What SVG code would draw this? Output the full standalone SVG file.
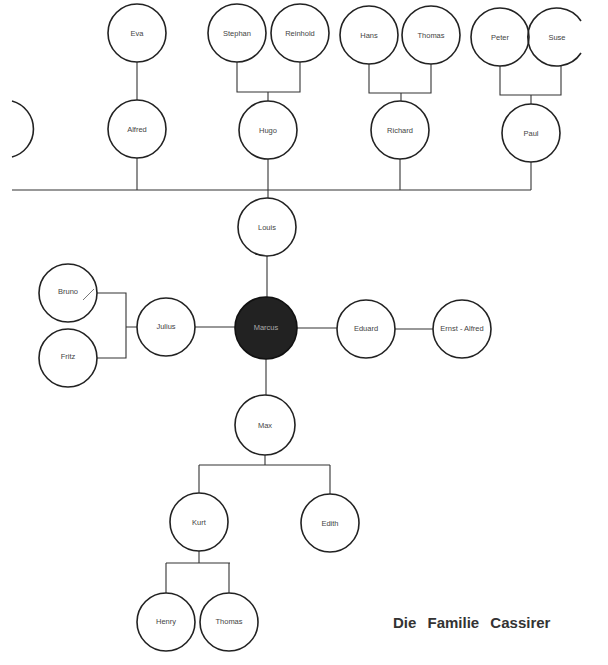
<svg xmlns="http://www.w3.org/2000/svg" width="608" height="665" viewBox="0 0 608 665">
<style>
.n{fill:#fff;stroke:#222;stroke-width:1.6}
.p{fill:none;stroke:#222;stroke-width:1.6}
.t{font-family:"Liberation Sans",Arial,sans-serif;font-size:7.5px;fill:#444;text-anchor:middle;dominant-baseline:central}
.c{fill:none;stroke:#333;stroke-width:1.1}
</style>
<rect width="608" height="665" fill="#fff"/>
<g id="connectors" class="c">
<path d="M137 62V100"/>
<path d="M237 62V92H300V62M268 92V101"/>
<path d="M369 64V93H431V64M401 93V101"/>
<path d="M500 66V95H561V66M531 95V104"/>
<path d="M12 190H531"/>
<path d="M137 158V190"/>
<path d="M268 159V198"/>
<path d="M400 159V190"/>
<path d="M531 162V190"/>
<path d="M267 256V297"/>
<path d="M97 293H126V358H97M126 327H137"/>
<path d="M195 327H235"/>
<path d="M297 328H337"/>
<path d="M395 329H433"/>
<path d="M266 359V395"/>
<path d="M265 455V465M199 465H330M199 465V493M330 465V494"/>
<path d="M199 551V563M166 563H230M166 563V593M229 563V593"/>
</g>
<g id="left"><path class="p" d="M12 101A29 29 0 0 1 12 157"/></g>
<g id="eva"><circle class="n" cx="137" cy="33" r="29"/><text class="t" x="137" y="33">Eva</text></g>
<g id="stephan"><circle class="n" cx="237" cy="33" r="29"/><text class="t" x="237" y="33">Stephan</text></g>
<g id="reinhold"><circle class="n" cx="300" cy="33" r="29"/><text class="t" x="300" y="33">Reinhold</text></g>
<g id="hans"><circle class="n" cx="369" cy="35" r="29"/><text class="t" x="369" y="35">Hans</text></g>
<g id="thomas1"><circle class="n" cx="431" cy="35" r="29"/><text class="t" x="431" y="35">Thomas</text></g>
<g id="peter"><circle class="n" cx="500" cy="37" r="29"/><text class="t" x="500" y="37">Peter</text></g>
<g id="suse"><path class="p" d="M581 21A29 29 0 1 0 581 53"/><text class="t" x="557" y="37">Suse</text></g>
<g id="alfred"><circle class="n" cx="137" cy="129" r="29"/><text class="t" x="137" y="129">Alfred</text></g>
<g id="hugo"><circle class="n" cx="268" cy="130" r="29"/><text class="t" x="268" y="130">Hugo</text></g>
<g id="richard"><circle class="n" cx="400" cy="130" r="29"/><text class="t" x="400" y="130">Richard</text></g>
<g id="paul"><circle class="n" cx="531" cy="133" r="29"/><text class="t" x="531" y="133">Paul</text></g>
<g id="louis"><circle class="n" cx="267" cy="227" r="29"/><text class="t" x="267" y="227">Louis</text></g>
<g id="bruno"><circle class="n" cx="68" cy="293" r="29"/><text class="t" x="68" y="291">Bruno</text><path d="M83 300L94 289" stroke="#777" stroke-width="1"/></g>
<g id="fritz"><circle class="n" cx="68" cy="358" r="29"/><text class="t" x="68" y="356">Fritz</text></g>
<g id="julius"><circle class="n" cx="166" cy="327" r="29"/><text class="t" x="166" y="326">Julius</text></g>
<g id="marcus"><circle cx="266" cy="328" r="31" fill="#222" stroke="#111" stroke-width="1.6"/><text class="t" x="266" y="327" style="fill:#aaa">Marcus</text></g>
<g id="eduard"><circle class="n" cx="366" cy="329" r="29"/><text class="t" x="366" y="328">Eduard</text></g>
<g id="ernst-alfred"><circle class="n" cx="462" cy="329" r="29"/><text class="t" x="462" y="328">Ernst - Alfred</text></g>
<g id="max"><circle class="n" cx="265" cy="425" r="30"/><text class="t" x="265" y="425">Max</text></g>
<g id="kurt"><circle class="n" cx="199" cy="522" r="29"/><text class="t" x="199" y="522">Kurt</text></g>
<g id="edith"><circle class="n" cx="330" cy="523" r="29"/><text class="t" x="330" y="523">Edith</text></g>
<g id="henry"><circle class="n" cx="166" cy="622" r="29"/><text class="t" x="166" y="621">Henry</text></g>
<g id="thomas2"><circle class="n" cx="229" cy="622" r="29"/><text class="t" x="229" y="621">Thomas</text></g>
<text x="393" y="628" font-family="'Liberation Sans',Arial,sans-serif" font-size="15" font-weight="bold" fill="#333" word-spacing="7">Die Familie Cassirer</text>
</svg>
